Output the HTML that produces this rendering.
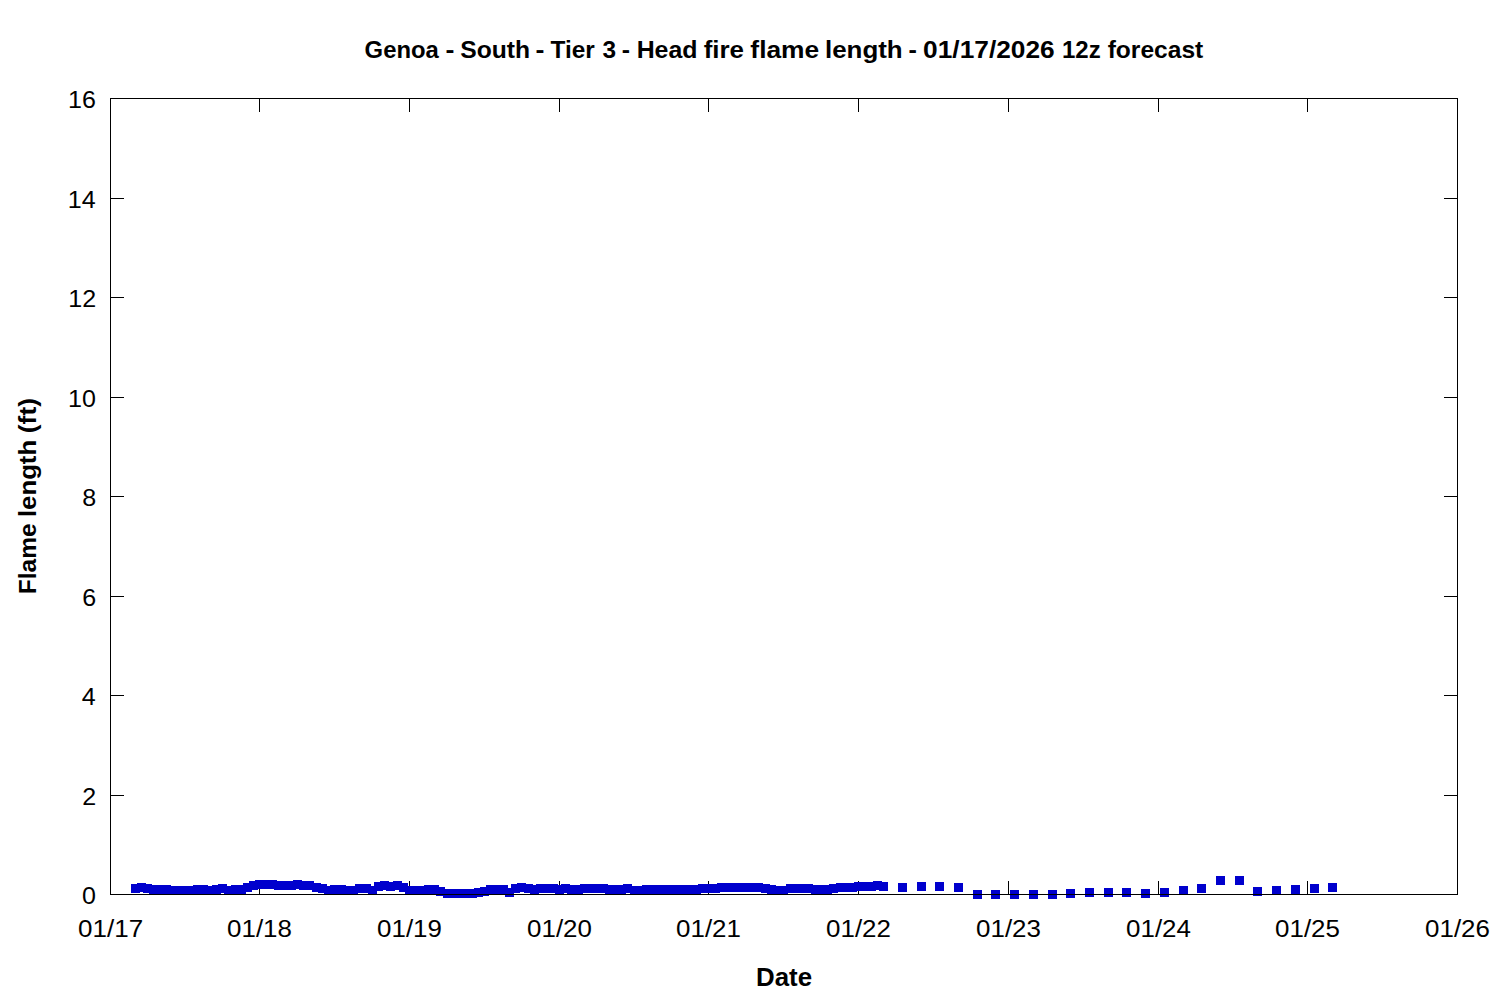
<!DOCTYPE html>
<html><head><meta charset="utf-8"><title>Genoa - South - Tier 3 - Head fire flame length - 01/17/2026 12z forecast</title>
<style>
html,body{margin:0;padding:0;background:#fff;overflow:hidden;}
svg{display:block;}
text{font-family:"Liberation Sans",sans-serif;font-size:24px;fill:#000;}
.b{font-weight:bold;}
</style></head>
<body>
<svg width="1500" height="1000" viewBox="0 0 1500 1000">
<rect x="0" y="0" width="1500" height="1000" fill="#fff"/>
<g fill="#000" shape-rendering="crispEdges"><rect x="110" y="198" width="14" height="1"/><rect x="1444" y="198" width="14" height="1"/><rect x="110" y="297" width="14" height="1"/><rect x="1444" y="297" width="14" height="1"/><rect x="110" y="397" width="14" height="1"/><rect x="1444" y="397" width="14" height="1"/><rect x="110" y="496" width="14" height="1"/><rect x="1444" y="496" width="14" height="1"/><rect x="110" y="596" width="14" height="1"/><rect x="1444" y="596" width="14" height="1"/><rect x="110" y="695" width="14" height="1"/><rect x="1444" y="695" width="14" height="1"/><rect x="110" y="795" width="14" height="1"/><rect x="1444" y="795" width="14" height="1"/><rect x="259" y="98" width="1" height="14"/><rect x="259" y="881" width="1" height="14"/><rect x="409" y="98" width="1" height="14"/><rect x="409" y="881" width="1" height="14"/><rect x="559" y="98" width="1" height="14"/><rect x="559" y="881" width="1" height="14"/><rect x="708" y="98" width="1" height="14"/><rect x="708" y="881" width="1" height="14"/><rect x="858" y="98" width="1" height="14"/><rect x="858" y="881" width="1" height="14"/><rect x="1008" y="98" width="1" height="14"/><rect x="1008" y="881" width="1" height="14"/><rect x="1158" y="98" width="1" height="14"/><rect x="1158" y="881" width="1" height="14"/><rect x="1307" y="98" width="1" height="14"/><rect x="1307" y="881" width="1" height="14"/></g>
<g fill="#0000cd" shape-rendering="crispEdges"><rect x="131" y="884" width="9" height="9"/><rect x="137" y="883" width="9" height="9"/><rect x="143" y="884" width="9" height="9"/><rect x="149" y="885" width="9" height="9"/><rect x="156" y="885" width="9" height="9"/><rect x="162" y="885" width="9" height="9"/><rect x="168" y="886" width="9" height="9"/><rect x="174" y="886" width="9" height="9"/><rect x="181" y="886" width="9" height="9"/><rect x="187" y="886" width="9" height="9"/><rect x="193" y="885" width="9" height="9"/><rect x="199" y="885" width="9" height="9"/><rect x="206" y="886" width="9" height="9"/><rect x="212" y="885" width="9" height="9"/><rect x="218" y="884" width="9" height="9"/><rect x="224" y="886" width="9" height="9"/><rect x="231" y="885" width="9" height="9"/><rect x="237" y="885" width="9" height="9"/><rect x="243" y="883" width="9" height="9"/><rect x="249" y="881" width="9" height="9"/><rect x="255" y="880" width="9" height="9"/><rect x="262" y="880" width="9" height="9"/><rect x="268" y="880" width="9" height="9"/><rect x="274" y="881" width="9" height="9"/><rect x="280" y="881" width="9" height="9"/><rect x="287" y="881" width="9" height="9"/><rect x="293" y="880" width="9" height="9"/><rect x="299" y="881" width="9" height="9"/><rect x="305" y="881" width="9" height="9"/><rect x="312" y="883" width="9" height="9"/><rect x="318" y="884" width="9" height="9"/><rect x="324" y="886" width="9" height="9"/><rect x="330" y="885" width="9" height="9"/><rect x="337" y="885" width="9" height="9"/><rect x="343" y="886" width="9" height="9"/><rect x="349" y="886" width="9" height="9"/><rect x="355" y="884" width="9" height="9"/><rect x="362" y="884" width="9" height="9"/><rect x="368" y="886" width="9" height="9"/><rect x="374" y="882" width="9" height="9"/><rect x="380" y="881" width="9" height="9"/><rect x="386" y="882" width="9" height="9"/><rect x="393" y="881" width="9" height="9"/><rect x="399" y="883" width="9" height="9"/><rect x="405" y="886" width="9" height="9"/><rect x="411" y="886" width="9" height="9"/><rect x="418" y="886" width="9" height="9"/><rect x="424" y="885" width="9" height="9"/><rect x="430" y="885" width="9" height="9"/><rect x="436" y="887" width="9" height="9"/><rect x="443" y="889" width="9" height="9"/><rect x="449" y="889" width="9" height="9"/><rect x="455" y="889" width="9" height="9"/><rect x="461" y="889" width="9" height="9"/><rect x="468" y="889" width="9" height="9"/><rect x="474" y="888" width="9" height="9"/><rect x="480" y="887" width="9" height="9"/><rect x="486" y="885" width="9" height="9"/><rect x="492" y="885" width="9" height="9"/><rect x="499" y="885" width="9" height="9"/><rect x="505" y="888" width="9" height="9"/><rect x="511" y="884" width="9" height="9"/><rect x="517" y="883" width="9" height="9"/><rect x="524" y="884" width="9" height="9"/><rect x="530" y="885" width="9" height="9"/><rect x="536" y="884" width="9" height="9"/><rect x="542" y="884" width="9" height="9"/><rect x="549" y="884" width="9" height="9"/><rect x="555" y="885" width="9" height="9"/><rect x="561" y="884" width="9" height="9"/><rect x="567" y="885" width="9" height="9"/><rect x="574" y="885" width="9" height="9"/><rect x="580" y="884" width="9" height="9"/><rect x="586" y="884" width="9" height="9"/><rect x="592" y="884" width="9" height="9"/><rect x="599" y="884" width="9" height="9"/><rect x="605" y="885" width="9" height="9"/><rect x="611" y="885" width="9" height="9"/><rect x="617" y="885" width="9" height="9"/><rect x="623" y="884" width="9" height="9"/><rect x="630" y="886" width="9" height="9"/><rect x="636" y="886" width="9" height="9"/><rect x="642" y="885" width="9" height="9"/><rect x="648" y="885" width="9" height="9"/><rect x="655" y="885" width="9" height="9"/><rect x="661" y="885" width="9" height="9"/><rect x="667" y="885" width="9" height="9"/><rect x="673" y="885" width="9" height="9"/><rect x="680" y="885" width="9" height="9"/><rect x="686" y="885" width="9" height="9"/><rect x="692" y="885" width="9" height="9"/><rect x="698" y="884" width="9" height="9"/><rect x="705" y="884" width="9" height="9"/><rect x="711" y="884" width="9" height="9"/><rect x="717" y="883" width="9" height="9"/><rect x="723" y="883" width="9" height="9"/><rect x="730" y="883" width="9" height="9"/><rect x="736" y="883" width="9" height="9"/><rect x="742" y="883" width="9" height="9"/><rect x="748" y="883" width="9" height="9"/><rect x="754" y="883" width="9" height="9"/><rect x="761" y="884" width="9" height="9"/><rect x="767" y="885" width="9" height="9"/><rect x="773" y="886" width="9" height="9"/><rect x="779" y="886" width="9" height="9"/><rect x="786" y="884" width="9" height="9"/><rect x="792" y="884" width="9" height="9"/><rect x="798" y="884" width="9" height="9"/><rect x="804" y="884" width="9" height="9"/><rect x="811" y="885" width="9" height="9"/><rect x="817" y="885" width="9" height="9"/><rect x="823" y="885" width="9" height="9"/><rect x="829" y="884" width="9" height="9"/><rect x="836" y="883" width="9" height="9"/><rect x="842" y="883" width="9" height="9"/><rect x="848" y="883" width="9" height="9"/><rect x="854" y="882" width="9" height="9"/><rect x="860" y="882" width="9" height="9"/><rect x="867" y="882" width="9" height="9"/><rect x="873" y="881" width="9" height="9"/><rect x="879" y="882" width="9" height="9"/><rect x="898" y="883" width="9" height="9"/><rect x="917" y="882" width="9" height="9"/><rect x="935" y="882" width="9" height="9"/><rect x="954" y="883" width="9" height="9"/><rect x="973" y="890" width="9" height="9"/><rect x="991" y="890" width="9" height="9"/><rect x="1010" y="890" width="9" height="9"/><rect x="1029" y="890" width="9" height="9"/><rect x="1048" y="890" width="9" height="9"/><rect x="1066" y="889" width="9" height="9"/><rect x="1085" y="888" width="9" height="9"/><rect x="1104" y="888" width="9" height="9"/><rect x="1122" y="888" width="9" height="9"/><rect x="1141" y="889" width="9" height="9"/><rect x="1160" y="888" width="9" height="9"/><rect x="1179" y="886" width="9" height="9"/><rect x="1197" y="884" width="9" height="9"/><rect x="1216" y="876" width="9" height="9"/><rect x="1235" y="876" width="9" height="9"/><rect x="1253" y="887" width="9" height="9"/><rect x="1272" y="886" width="9" height="9"/><rect x="1291" y="885" width="9" height="9"/><rect x="1310" y="884" width="9" height="9"/><rect x="1328" y="883" width="9" height="9"/></g>
<g fill="#000" shape-rendering="crispEdges">
<rect x="110" y="98" width="1348" height="1"/>
<rect x="110" y="894" width="1348" height="1"/>
<rect x="110" y="98" width="1" height="797"/>
<rect x="1457" y="98" width="1" height="797"/>
</g>
<text class="b" transform="matrix(0.9939 0 0 1.02 364.61 58.45)">Genoa</text>
<text class="b" transform="matrix(1.1167 0 0 1.02 445.58 58.45)">-</text>
<text class="b" transform="matrix(1.0281 0 0 1.02 460.23 58.45)">South</text>
<text class="b" transform="matrix(1.1167 0 0 1.02 535.48 58.45)">-</text>
<text class="b" transform="matrix(1.0163 0 0 1.02 550.55 58.45)">Tier</text>
<text class="b" transform="matrix(1.0167 0 0 1.02 602.39 58.45)">3</text>
<text class="b" transform="matrix(1.0333 0 0 1.02 621.87 58.45)">-</text>
<text class="b" transform="matrix(1.0378 0 0 1.02 636.64 58.45)">Head</text>
<text class="b" transform="matrix(1.0806 0 0 1.02 703.66 58.45)">fire</text>
<text class="b" transform="matrix(1.0992 0 0 1.02 750.35 58.45)">flame</text>
<text class="b" transform="matrix(1.0793 0 0 1.02 825.01 58.45)">length</text>
<text class="b" transform="matrix(1.0500 0 0 1.02 908.45 58.45)">-</text>
<text class="b" transform="matrix(1.0960 0 0 1.02 923.10 58.45)">01/17/2026</text>
<text class="b" transform="matrix(1.0014 0 0 1.02 1062.00 58.45)">12z</text>
<text class="b" transform="matrix(1.0238 0 0 1.02 1107.69 58.45)">forecast</text>
<text transform="matrix(1.0450 0 0 1.03 68.09 107.60)">16</text>
<text transform="matrix(1.0450 0 0 1.03 67.83 207.60)">14</text>
<text transform="matrix(1.0450 0 0 1.03 68.35 306.60)">12</text>
<text transform="matrix(1.0450 0 0 1.03 68.09 406.60)">10</text>
<text transform="matrix(1.0450 0 0 1.03 82.20 505.60)">8</text>
<text transform="matrix(1.0450 0 0 1.03 82.20 605.60)">6</text>
<text transform="matrix(1.0450 0 0 1.03 81.68 704.60)">4</text>
<text transform="matrix(1.0450 0 0 1.03 82.20 804.60)">2</text>
<text transform="matrix(1.0450 0 0 1.03 81.94 903.60)">0</text>
<text transform="matrix(1.0840 0 0 1.02 78.12 936.90)">01/17</text>
<text transform="matrix(1.0793 0 0 1.02 227.12 936.90)">01/18</text>
<text transform="matrix(1.0793 0 0 1.02 377.12 936.90)">01/19</text>
<text transform="matrix(1.0793 0 0 1.02 527.12 936.90)">01/20</text>
<text transform="matrix(1.0793 0 0 1.02 676.12 936.90)">01/21</text>
<text transform="matrix(1.0793 0 0 1.02 826.12 936.90)">01/22</text>
<text transform="matrix(1.0793 0 0 1.02 976.12 936.90)">01/23</text>
<text transform="matrix(1.0793 0 0 1.02 1126.12 936.90)">01/24</text>
<text transform="matrix(1.0793 0 0 1.02 1275.12 936.90)">01/25</text>
<text transform="matrix(1.0793 0 0 1.02 1425.12 936.90)">01/26</text>
<text class="b" transform="matrix(1.0774 0 0 1.04 755.98 986.20)">Date</text>
<text class="b" transform="matrix(0 -1.0224 1.03 0 36.4 594.23)">Flame</text>
<text class="b" transform="matrix(0 -1.0735 1.03 0 36.4 517.08)">length</text>
<text class="b" transform="matrix(0 -1.1017 1.03 0 36.4 433.18)">(ft)</text>
</svg>
</body></html>
